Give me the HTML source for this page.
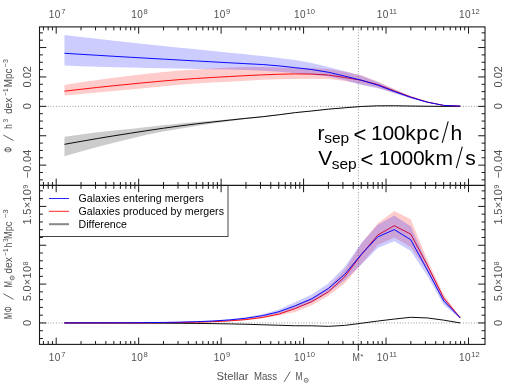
<!DOCTYPE html><html><head><meta charset="utf-8"><style>html,body{margin:0;padding:0;background:#fff;width:512px;height:384px;overflow:hidden}svg text{font-family:"Liberation Sans",sans-serif}</style></head><body><svg width="512" height="384" viewBox="0 0 512 384" style="position:absolute;left:0;top:0;will-change:transform">
<line x1="39.5" y1="106.4" x2="485.0" y2="106.4" stroke="#6a6a6a" stroke-width="0.8" stroke-dasharray="0.85 1.9"/>
<line x1="39.5" y1="322.95" x2="485.0" y2="322.95" stroke="#6a6a6a" stroke-width="0.8" stroke-dasharray="0.85 1.9"/>
<line x1="358.4" y1="26.9" x2="358.4" y2="344.4" stroke="#6a6a6a" stroke-width="0.8" stroke-dasharray="0.85 1.9"/>
<polygon points="64.45,136.83 80.94,134.44 97.43,132.31 113.92,130.59 130.41,128.93 146.91,127.07 163.40,125.27 179.89,123.61 196.38,122.06 212.87,120.65 229.37,119.25 245.86,117.74 262.35,116.28 278.84,114.41 295.33,112.31 311.83,110.67 328.32,108.90 344.81,107.54 361.30,106.24 377.79,105.61 394.29,105.58 410.78,105.83 427.27,106.03 443.76,106.17 460.25,106.20 460.25,106.60 443.76,106.57 427.27,106.44 410.78,106.24 394.29,106.01 377.79,106.06 361.30,106.72 344.81,108.04 328.32,109.43 311.83,111.24 295.33,112.93 278.84,115.15 262.35,117.24 245.86,118.99 229.37,121.13 212.87,123.51 196.38,126.05 179.89,128.66 163.40,131.40 146.91,134.77 130.41,138.71 113.92,142.78 97.43,147.10 80.94,151.59 64.45,156.27" fill="#000" fill-opacity="0.2"/>
<polyline points="64.45,144.32 80.94,141.38 97.43,138.54 113.92,135.82 130.41,133.21 146.91,130.67 163.40,128.23 179.89,125.95 196.38,123.87 212.87,121.96 229.37,120.15 245.86,118.36 262.35,116.76 278.84,114.78 295.33,112.62 311.83,110.96 328.32,109.17 344.81,107.79 361.30,106.48 377.79,105.84 394.29,105.79 410.78,106.04 427.27,106.24 443.76,106.37 460.25,106.40" fill="none" stroke="#000" stroke-width="0.95" stroke-linejoin="round"/>
<polygon points="64.45,84.93 80.94,82.35 97.43,79.94 113.92,77.73 130.41,75.73 146.91,73.82 163.40,72.05 179.89,70.58 196.38,69.45 212.87,68.40 229.37,67.53 245.86,67.04 262.35,67.07 278.84,67.38 295.33,67.73 311.83,67.93 328.32,68.89 344.81,71.63 361.30,75.36 377.79,81.72 394.29,89.10 410.78,95.93 427.27,101.53 443.76,105.33 460.25,106.10 460.25,106.10 443.76,105.50 427.27,102.51 410.78,98.10 394.29,92.75 377.79,87.74 361.30,83.95 344.81,80.98 328.32,79.01 311.83,78.71 295.33,78.91 278.84,79.27 262.35,79.81 245.86,80.67 229.37,81.64 212.87,82.52 196.38,83.45 179.89,84.63 163.40,86.17 146.91,87.89 130.41,89.58 113.92,91.11 97.43,92.60 80.94,94.05 64.45,95.46" fill="#f00" fill-opacity="0.2"/>
<polyline points="64.45,91.20 80.94,89.28 97.43,87.45 113.92,85.71 130.41,84.07 146.91,82.48 163.40,80.96 179.89,79.60 196.38,78.44 212.87,77.45 229.37,76.54 245.86,75.64 262.35,74.86 278.84,74.25 295.33,73.90 311.83,74.10 328.32,75.03 344.81,77.50 361.30,80.27 377.79,84.60 394.29,90.92 410.78,97.02 427.27,102.02 443.76,105.42 460.25,106.10" fill="none" stroke="#f00" stroke-width="0.95" stroke-linejoin="round"/>
<polygon points="64.45,35.05 80.94,36.96 97.43,38.84 113.92,40.68 130.41,42.48 146.91,44.24 163.40,45.96 179.89,47.66 196.38,49.35 212.87,50.99 229.37,52.63 245.86,54.34 262.35,56.11 278.84,57.90 295.33,60.00 311.83,62.97 328.32,67.05 344.81,71.35 361.30,75.63 377.79,81.93 394.29,89.59 410.78,96.23 427.27,101.66 443.76,105.36 460.25,106.10 460.25,106.10 443.76,105.52 427.27,102.64 410.78,98.41 394.29,93.25 377.79,88.28 361.30,84.88 344.81,80.29 328.32,76.45 311.83,74.38 295.33,73.15 278.84,71.80 262.35,70.66 245.86,69.99 229.37,69.54 212.87,69.20 196.38,68.91 179.89,68.59 163.40,68.29 146.91,67.97 130.41,67.61 113.92,67.18 97.43,66.68 80.94,66.13 64.45,65.52" fill="#00f" fill-opacity="0.2"/>
<polyline points="64.45,53.28 80.94,54.30 97.43,55.30 113.92,56.29 130.41,57.26 146.91,58.20 163.40,59.13 179.89,60.05 196.38,60.97 212.87,61.89 229.37,62.79 245.86,63.68 262.35,64.50 278.84,65.86 295.33,67.68 311.83,69.54 328.32,72.26 344.81,76.11 361.30,80.19 377.79,85.16 394.29,91.52 410.78,97.38 427.27,102.18 443.76,105.44 460.25,106.10" fill="none" stroke="#00f" stroke-width="0.95" stroke-linejoin="round"/>
<polyline points="64.45,322.98 80.94,322.99 97.43,323.01 113.92,323.03 130.41,323.07 146.91,323.12 163.40,323.19 179.89,323.29 196.38,323.43 212.87,323.63 229.37,323.90 245.86,324.26 262.35,324.75 278.84,325.26 295.33,325.75 311.83,325.80 328.32,326.35 344.81,325.40 361.30,323.25 377.79,321.05 394.29,319.05 410.78,317.30 427.27,317.95 443.76,320.15 460.25,322.95" fill="none" stroke="#000" stroke-width="0.95" stroke-linejoin="round"/>
<polygon points="64.45,322.94 80.94,322.92 97.43,322.90 113.92,322.87 130.41,322.82 146.91,322.72 163.40,322.57 179.89,322.33 196.38,321.93 212.87,321.29 229.37,320.26 245.86,318.63 262.35,316.11 278.84,312.19 295.33,305.30 311.83,297.80 328.32,287.30 344.81,269.75 361.30,243.70 377.79,223.20 394.29,210.90 410.78,219.30 427.27,259.75 443.76,294.40 460.25,317.30 460.25,318.50 443.76,301.20 427.27,270.50 410.78,246.90 394.29,237.50 377.79,244.90 361.30,264.20 344.81,283.25 328.32,295.70 311.83,305.20 295.33,311.90 278.84,315.47 262.35,318.33 245.86,320.13 229.37,321.24 212.87,321.91 196.38,322.32 179.89,322.57 163.40,322.73 146.91,322.82 130.41,322.88 113.92,322.91 97.43,322.93 80.94,322.94 64.45,322.94" fill="#f00" fill-opacity="0.2"/>
<polyline points="64.45,322.94 80.94,322.93 97.43,322.92 113.92,322.89 130.41,322.85 146.91,322.78 163.40,322.67 179.89,322.48 196.38,322.18 212.87,321.69 229.37,320.88 245.86,319.57 262.35,317.46 278.84,314.09 295.33,308.50 311.83,301.60 328.32,291.90 344.81,276.75 361.30,254.70 377.79,235.00 394.29,225.70 410.78,234.10 427.27,265.00 443.76,298.20 460.25,317.90" fill="none" stroke="#f00" stroke-width="0.95" stroke-linejoin="round"/>
<polygon points="64.45,322.90 80.94,322.87 97.43,322.83 113.92,322.77 130.41,322.67 146.91,322.52 163.40,322.29 179.89,321.93 196.38,321.38 212.87,320.53 229.37,319.23 245.86,317.24 262.35,314.20 278.84,309.58 295.33,302.00 311.83,294.55 328.32,283.50 344.81,266.80 361.30,242.90 377.79,224.70 394.29,215.40 410.78,226.25 427.27,263.50 443.76,297.50 460.25,317.30 460.25,318.50 443.76,305.10 427.27,275.70 410.78,250.95 394.29,241.30 377.79,248.10 361.30,264.40 344.81,280.30 328.32,292.50 311.83,302.25 295.33,308.90 278.84,313.41 262.35,316.73 245.86,318.95 229.37,320.40 212.87,321.32 196.38,321.92 179.89,322.29 163.40,322.53 146.91,322.68 130.41,322.78 113.92,322.84 97.43,322.88 80.94,322.91 64.45,322.92" fill="#00f" fill-opacity="0.2"/>
<polyline points="64.45,322.91 80.94,322.89 97.43,322.86 113.92,322.81 130.41,322.74 146.91,322.62 163.40,322.43 179.89,322.14 196.38,321.70 212.87,321.01 229.37,319.93 245.86,318.26 262.35,315.66 278.84,311.78 295.33,305.70 311.83,298.75 328.32,288.50 344.81,274.30 361.30,254.40 377.79,236.90 394.29,229.60 410.78,239.75 427.27,270.00 443.76,301.00 460.25,317.90" fill="none" stroke="#00f" stroke-width="0.95" stroke-linejoin="round"/>
<rect x="39.5" y="185.4" width="188.5" height="51.099999999999994" fill="#fff" stroke="#333" stroke-width="0.9"/>
<line x1="49" y1="198.5" x2="69" y2="198.5" stroke="#00f" stroke-width="0.85"/>
<line x1="49" y1="211.3" x2="69" y2="211.3" stroke="#f00" stroke-width="0.85"/>
<line x1="49" y1="224.2" x2="69" y2="224.2" stroke="#888" stroke-width="2.0"/>
<path d="M43.43 26.9v3.4M43.43 182.0v6.8M43.43 344.4v-3.4M48.21 26.9v3.4M48.21 182.0v6.8M48.21 344.4v-3.4M52.43 26.9v3.4M52.43 182.0v6.8M52.43 344.4v-3.4M56.20 26.9v6.8M56.20 178.6v13.6M56.20 344.4v-6.8M81.02 26.9v3.4M81.02 182.0v6.8M81.02 344.4v-3.4M95.54 26.9v3.4M95.54 182.0v6.8M95.54 344.4v-3.4M105.85 26.9v3.4M105.85 182.0v6.8M105.85 344.4v-3.4M113.84 26.9v3.4M113.84 182.0v6.8M113.84 344.4v-3.4M120.37 26.9v3.4M120.37 182.0v6.8M120.37 344.4v-3.4M125.89 26.9v3.4M125.89 182.0v6.8M125.89 344.4v-3.4M130.67 26.9v3.4M130.67 182.0v6.8M130.67 344.4v-3.4M134.89 26.9v3.4M134.89 182.0v6.8M134.89 344.4v-3.4M138.66 26.9v6.8M138.66 178.6v13.6M138.66 344.4v-6.8M163.48 26.9v3.4M163.48 182.0v6.8M163.48 344.4v-3.4M178.00 26.9v3.4M178.00 182.0v6.8M178.00 344.4v-3.4M188.31 26.9v3.4M188.31 182.0v6.8M188.31 344.4v-3.4M196.30 26.9v3.4M196.30 182.0v6.8M196.30 344.4v-3.4M202.83 26.9v3.4M202.83 182.0v6.8M202.83 344.4v-3.4M208.35 26.9v3.4M208.35 182.0v6.8M208.35 344.4v-3.4M213.13 26.9v3.4M213.13 182.0v6.8M213.13 344.4v-3.4M217.35 26.9v3.4M217.35 182.0v6.8M217.35 344.4v-3.4M221.12 26.9v6.8M221.12 178.6v13.6M221.12 344.4v-6.8M245.94 26.9v3.4M245.94 182.0v6.8M245.94 344.4v-3.4M260.46 26.9v3.4M260.46 182.0v6.8M260.46 344.4v-3.4M270.77 26.9v3.4M270.77 182.0v6.8M270.77 344.4v-3.4M278.76 26.9v3.4M278.76 182.0v6.8M278.76 344.4v-3.4M285.29 26.9v3.4M285.29 182.0v6.8M285.29 344.4v-3.4M290.81 26.9v3.4M290.81 182.0v6.8M290.81 344.4v-3.4M295.59 26.9v3.4M295.59 182.0v6.8M295.59 344.4v-3.4M299.81 26.9v3.4M299.81 182.0v6.8M299.81 344.4v-3.4M303.58 26.9v6.8M303.58 178.6v13.6M303.58 344.4v-6.8M328.40 26.9v3.4M328.40 182.0v6.8M328.40 344.4v-3.4M342.92 26.9v3.4M342.92 182.0v6.8M342.92 344.4v-3.4M353.23 26.9v3.4M353.23 182.0v6.8M353.23 344.4v-3.4M361.22 26.9v3.4M361.22 182.0v6.8M361.22 344.4v-3.4M367.75 26.9v3.4M367.75 182.0v6.8M367.75 344.4v-3.4M373.27 26.9v3.4M373.27 182.0v6.8M373.27 344.4v-3.4M378.05 26.9v3.4M378.05 182.0v6.8M378.05 344.4v-3.4M382.27 26.9v3.4M382.27 182.0v6.8M382.27 344.4v-3.4M386.04 26.9v6.8M386.04 178.6v13.6M386.04 344.4v-6.8M410.86 26.9v3.4M410.86 182.0v6.8M410.86 344.4v-3.4M425.38 26.9v3.4M425.38 182.0v6.8M425.38 344.4v-3.4M435.69 26.9v3.4M435.69 182.0v6.8M435.69 344.4v-3.4M443.68 26.9v3.4M443.68 182.0v6.8M443.68 344.4v-3.4M450.21 26.9v3.4M450.21 182.0v6.8M450.21 344.4v-3.4M455.73 26.9v3.4M455.73 182.0v6.8M455.73 344.4v-3.4M460.51 26.9v3.4M460.51 182.0v6.8M460.51 344.4v-3.4M464.73 26.9v3.4M464.73 182.0v6.8M464.73 344.4v-3.4M468.50 26.9v6.8M468.50 178.6v13.6M468.50 344.4v-6.8M39.5 32.85h3.4M485.0 32.85h-3.4M39.5 40.20h3.4M485.0 40.20h-3.4M39.5 47.55h6.8M485.0 47.55h-6.8M39.5 54.90h3.4M485.0 54.90h-3.4M39.5 62.25h3.4M485.0 62.25h-3.4M39.5 69.60h3.4M485.0 69.60h-3.4M39.5 76.95h6.8M485.0 76.95h-6.8M39.5 84.30h3.4M485.0 84.30h-3.4M39.5 91.65h3.4M485.0 91.65h-3.4M39.5 99.00h3.4M485.0 99.00h-3.4M39.5 106.35h6.8M485.0 106.35h-6.8M39.5 113.70h3.4M485.0 113.70h-3.4M39.5 121.05h3.4M485.0 121.05h-3.4M39.5 128.40h3.4M485.0 128.40h-3.4M39.5 135.75h6.8M485.0 135.75h-6.8M39.5 143.10h3.4M485.0 143.10h-3.4M39.5 150.45h3.4M485.0 150.45h-3.4M39.5 157.80h3.4M485.0 157.80h-3.4M39.5 165.15h6.8M485.0 165.15h-6.8M39.5 172.50h3.4M485.0 172.50h-3.4M39.5 179.85h3.4M485.0 179.85h-3.4M39.5 338.49h3.4M485.0 338.49h-3.4M39.5 330.72h3.4M485.0 330.72h-3.4M39.5 322.95h6.8M485.0 322.95h-6.8M39.5 315.18h3.4M485.0 315.18h-3.4M39.5 307.41h3.4M485.0 307.41h-3.4M39.5 299.64h3.4M485.0 299.64h-3.4M39.5 291.87h3.4M485.0 291.87h-3.4M39.5 284.10h6.8M485.0 284.10h-6.8M39.5 276.33h3.4M485.0 276.33h-3.4M39.5 268.56h3.4M485.0 268.56h-3.4M39.5 260.79h3.4M485.0 260.79h-3.4M39.5 253.02h3.4M485.0 253.02h-3.4M39.5 245.25h6.8M485.0 245.25h-6.8M39.5 237.48h3.4M485.0 237.48h-3.4M39.5 229.71h3.4M485.0 229.71h-3.4M39.5 221.94h3.4M485.0 221.94h-3.4M39.5 214.17h3.4M485.0 214.17h-3.4M39.5 206.40h6.8M485.0 206.40h-6.8M39.5 198.63h3.4M485.0 198.63h-3.4M39.5 190.86h3.4M485.0 190.86h-3.4M358.29999999999995 344.4v6.3" stroke="#1a1a1a" stroke-width="1" fill="none"/>
<rect x="39.5" y="26.9" width="445.5" height="317.5" fill="none" stroke="#1a1a1a" stroke-width="1.1"/>
<line x1="39.5" y1="185.4" x2="485.0" y2="185.4" stroke="#1a1a1a" stroke-width="1.1"/>
<text x="57.1" y="17.8" font-size="10" text-anchor="middle" fill="#505050"><tspan letter-spacing="0.45">10</tspan><tspan dy="-3.7" dx="0.3" font-size="7.6">7</tspan></text>
<text x="57.1" y="360.7" font-size="10" text-anchor="middle" fill="#505050"><tspan letter-spacing="0.45">10</tspan><tspan dy="-3.7" dx="0.3" font-size="7.6">7</tspan></text>
<text x="139.56" y="17.8" font-size="10" text-anchor="middle" fill="#505050"><tspan letter-spacing="0.45">10</tspan><tspan dy="-3.7" dx="0.3" font-size="7.6">8</tspan></text>
<text x="139.56" y="360.7" font-size="10" text-anchor="middle" fill="#505050"><tspan letter-spacing="0.45">10</tspan><tspan dy="-3.7" dx="0.3" font-size="7.6">8</tspan></text>
<text x="222.02" y="17.8" font-size="10" text-anchor="middle" fill="#505050"><tspan letter-spacing="0.45">10</tspan><tspan dy="-3.7" dx="0.3" font-size="7.6">9</tspan></text>
<text x="222.02" y="360.7" font-size="10" text-anchor="middle" fill="#505050"><tspan letter-spacing="0.45">10</tspan><tspan dy="-3.7" dx="0.3" font-size="7.6">9</tspan></text>
<text x="304.47999999999996" y="17.8" font-size="10" text-anchor="middle" fill="#505050"><tspan letter-spacing="0.45">10</tspan><tspan dy="-3.7" dx="0.3" font-size="7.6">10</tspan></text>
<text x="304.47999999999996" y="360.7" font-size="10" text-anchor="middle" fill="#505050"><tspan letter-spacing="0.45">10</tspan><tspan dy="-3.7" dx="0.3" font-size="7.6">10</tspan></text>
<text x="386.93999999999994" y="17.8" font-size="10" text-anchor="middle" fill="#505050"><tspan letter-spacing="0.45">10</tspan><tspan dy="-3.7" dx="0.3" font-size="7.6">11</tspan></text>
<text x="386.93999999999994" y="360.7" font-size="10" text-anchor="middle" fill="#505050"><tspan letter-spacing="0.45">10</tspan><tspan dy="-3.7" dx="0.3" font-size="7.6">11</tspan></text>
<text x="469.3999999999999" y="17.8" font-size="10" text-anchor="middle" fill="#505050"><tspan letter-spacing="0.45">10</tspan><tspan dy="-3.7" dx="0.3" font-size="7.6">12</tspan></text>
<text x="469.3999999999999" y="360.7" font-size="10" text-anchor="middle" fill="#505050"><tspan letter-spacing="0.45">10</tspan><tspan dy="-3.7" dx="0.3" font-size="7.6">12</tspan></text>
<text x="352.6" y="360.7" font-size="10" fill="#505050" textLength="7.4" lengthAdjust="spacingAndGlyphs">M</text>
<text x="360.3" y="359.3" font-size="8" fill="#505050">*</text>
<text x="216.6" y="380.3" font-size="10" fill="#505050" textLength="32" lengthAdjust="spacingAndGlyphs">Stellar</text>
<text x="254.0" y="380.3" font-size="10" fill="#505050" textLength="23" lengthAdjust="spacingAndGlyphs">Mass</text>
<line x1="284.2" y1="381.9" x2="290.2" y2="371.7" stroke="#505050" stroke-width="0.9"/>
<text x="295.5" y="380.3" font-size="10" fill="#505050" textLength="7.0" lengthAdjust="spacingAndGlyphs">M</text>
<circle cx="306.2" cy="380.3" r="2.0" fill="none" stroke="#505050" stroke-width="0.8"/><circle cx="306.2" cy="380.3" r="0.6" fill="#505050"/>
<text x="31.3" y="76.8" font-size="11" text-anchor="middle" fill="#505050" transform="rotate(-90 31.3 76.8)">0.02</text>
<text x="31.3" y="106.3" font-size="11" text-anchor="middle" fill="#505050" transform="rotate(-90 31.3 106.3)">0</text>
<text x="31.3" y="163.8" font-size="11" text-anchor="middle" fill="#505050" transform="rotate(-90 31.3 163.8)" letter-spacing="0.25">&#8722;0.04</text>
<text x="31.3" y="204.5" font-size="11" text-anchor="middle" fill="#505050" transform="rotate(-90 31.3 204.5)" letter-spacing="0.3">1.5&#215;10<tspan dy="-3.6" font-size="7.2">9</tspan></text>
<text x="31.3" y="281.3" font-size="11" text-anchor="middle" fill="#505050" transform="rotate(-90 31.3 281.3)" letter-spacing="0.3">5.0&#215;10<tspan dy="-3.6" font-size="7.2">8</tspan></text>
<text x="31.3" y="322.95" font-size="11" text-anchor="middle" fill="#505050" transform="rotate(-90 31.3 322.95)">0</text>
<text x="502.4" y="76.8" font-size="11" text-anchor="middle" fill="#505050" transform="rotate(-90 502.4 76.8)">0.02</text>
<text x="502.4" y="106.3" font-size="11" text-anchor="middle" fill="#505050" transform="rotate(-90 502.4 106.3)">0</text>
<text x="502.4" y="163.8" font-size="11" text-anchor="middle" fill="#505050" transform="rotate(-90 502.4 163.8)" letter-spacing="0.25">&#8722;0.04</text>
<text x="502.4" y="204.5" font-size="11" text-anchor="middle" fill="#505050" transform="rotate(-90 502.4 204.5)" letter-spacing="0.3">1.5&#215;10<tspan dy="-3.6" font-size="7.2">9</tspan></text>
<text x="502.4" y="281.3" font-size="11" text-anchor="middle" fill="#505050" transform="rotate(-90 502.4 281.3)" letter-spacing="0.3">5.0&#215;10<tspan dy="-3.6" font-size="7.2">8</tspan></text>
<text x="502.4" y="322.95" font-size="11" text-anchor="middle" fill="#505050" transform="rotate(-90 502.4 322.95)">0</text>
<g transform="translate(11.9 153) rotate(-90)" font-size="10" fill="#505050"><text x="0.2" y="0" textLength="5.8" lengthAdjust="spacingAndGlyphs">&#934;</text><text x="24.2" y="0" textLength="4.6" lengthAdjust="spacingAndGlyphs">h</text><text x="30.6" y="-3.8" font-size="7.4" textLength="3.6" lengthAdjust="spacingAndGlyphs">3</text><text x="38.9" y="0" textLength="16.6" lengthAdjust="spacingAndGlyphs">dex</text><text x="57.3" y="-3.8" font-size="7.4" textLength="7.2" lengthAdjust="spacingAndGlyphs">&#8722;1</text><text x="65.8" y="0" textLength="18.6" lengthAdjust="spacingAndGlyphs">Mpc</text><text x="85.8" y="-3.8" font-size="7.4" textLength="8.0" lengthAdjust="spacingAndGlyphs">&#8722;3</text><line x1="12.399999999999999" y1="1.6" x2="18.0" y2="-8.6" stroke="#505050" stroke-width="0.9"/></g>
<g transform="translate(11.9 319.1) rotate(-90)" font-size="10" fill="#505050"><text x="0" y="0" textLength="6.2" lengthAdjust="spacingAndGlyphs">M</text><text x="6.9" y="0" textLength="6.0" lengthAdjust="spacingAndGlyphs">&#934;</text><text x="31.9" y="0" textLength="6.2" lengthAdjust="spacingAndGlyphs">M</text><circle cx="41.2" cy="0.3" r="2.0" fill="none" stroke="#505050" stroke-width="0.8"/><circle cx="41.2" cy="0.3" r="0.6" fill="#505050"/><text x="45.3" y="0" textLength="16.6" lengthAdjust="spacingAndGlyphs">dex</text><text x="63.3" y="-3.8" font-size="7.4" textLength="7.2" lengthAdjust="spacingAndGlyphs">&#8722;1</text><text x="71.9" y="0" textLength="4.4" lengthAdjust="spacingAndGlyphs">h</text><text x="77.0" y="-3.8" font-size="7.4" textLength="3.4" lengthAdjust="spacingAndGlyphs">3</text><text x="80.0" y="0" textLength="17.6" lengthAdjust="spacingAndGlyphs">Mpc</text><text x="100.8" y="-3.8" font-size="7.4" textLength="9.0" lengthAdjust="spacingAndGlyphs">&#8722;3</text><line x1="19.8" y1="1.6" x2="25.400000000000002" y2="-8.6" stroke="#505050" stroke-width="0.9"/></g>
<text x="78.5" y="202.3" font-size="10.6" text-anchor="start" fill="#000" letter-spacing="0.045">Galaxies entering mergers</text>
<text x="78.5" y="215.2" font-size="10.6" text-anchor="start" fill="#000" letter-spacing="0.045">Galaxies produced by mergers</text>
<text x="78.5" y="228" font-size="10.6" text-anchor="start" fill="#000" letter-spacing="0.045">Difference</text>
<g font-size="21" fill="#000"><text x="317.5" y="139.5">r</text><text x="324.2" y="143.4" font-size="15.5">sep</text><text x="353.4" y="141.7" font-size="22">&lt;</text><text x="371.0" y="139.5" letter-spacing="-0.3">100</text><text x="405.2" y="139.5">k</text><text x="416.3" y="139.5">p</text><text x="428.7" y="139.5">c</text><text x="450.4" y="139.5">h</text><line x1="442.2" y1="142.8" x2="448.2" y2="121.4" stroke="#000" stroke-width="1.05"/></g>
<g font-size="21" fill="#000"><text x="318.2" y="164.8">V</text><text x="331.7" y="168.70000000000002" font-size="15.5">sep</text><text x="360.4" y="167.0" font-size="22">&lt;</text><text x="378.8" y="164.8" letter-spacing="-0.3">1000</text><text x="424.3" y="164.8">k</text><text x="435.6" y="164.8">m</text><text x="465.2" y="164.8">s</text><line x1="456.3" y1="168.10000000000002" x2="462.3" y2="146.70000000000002" stroke="#000" stroke-width="1.05"/></g>
</svg></body></html>
